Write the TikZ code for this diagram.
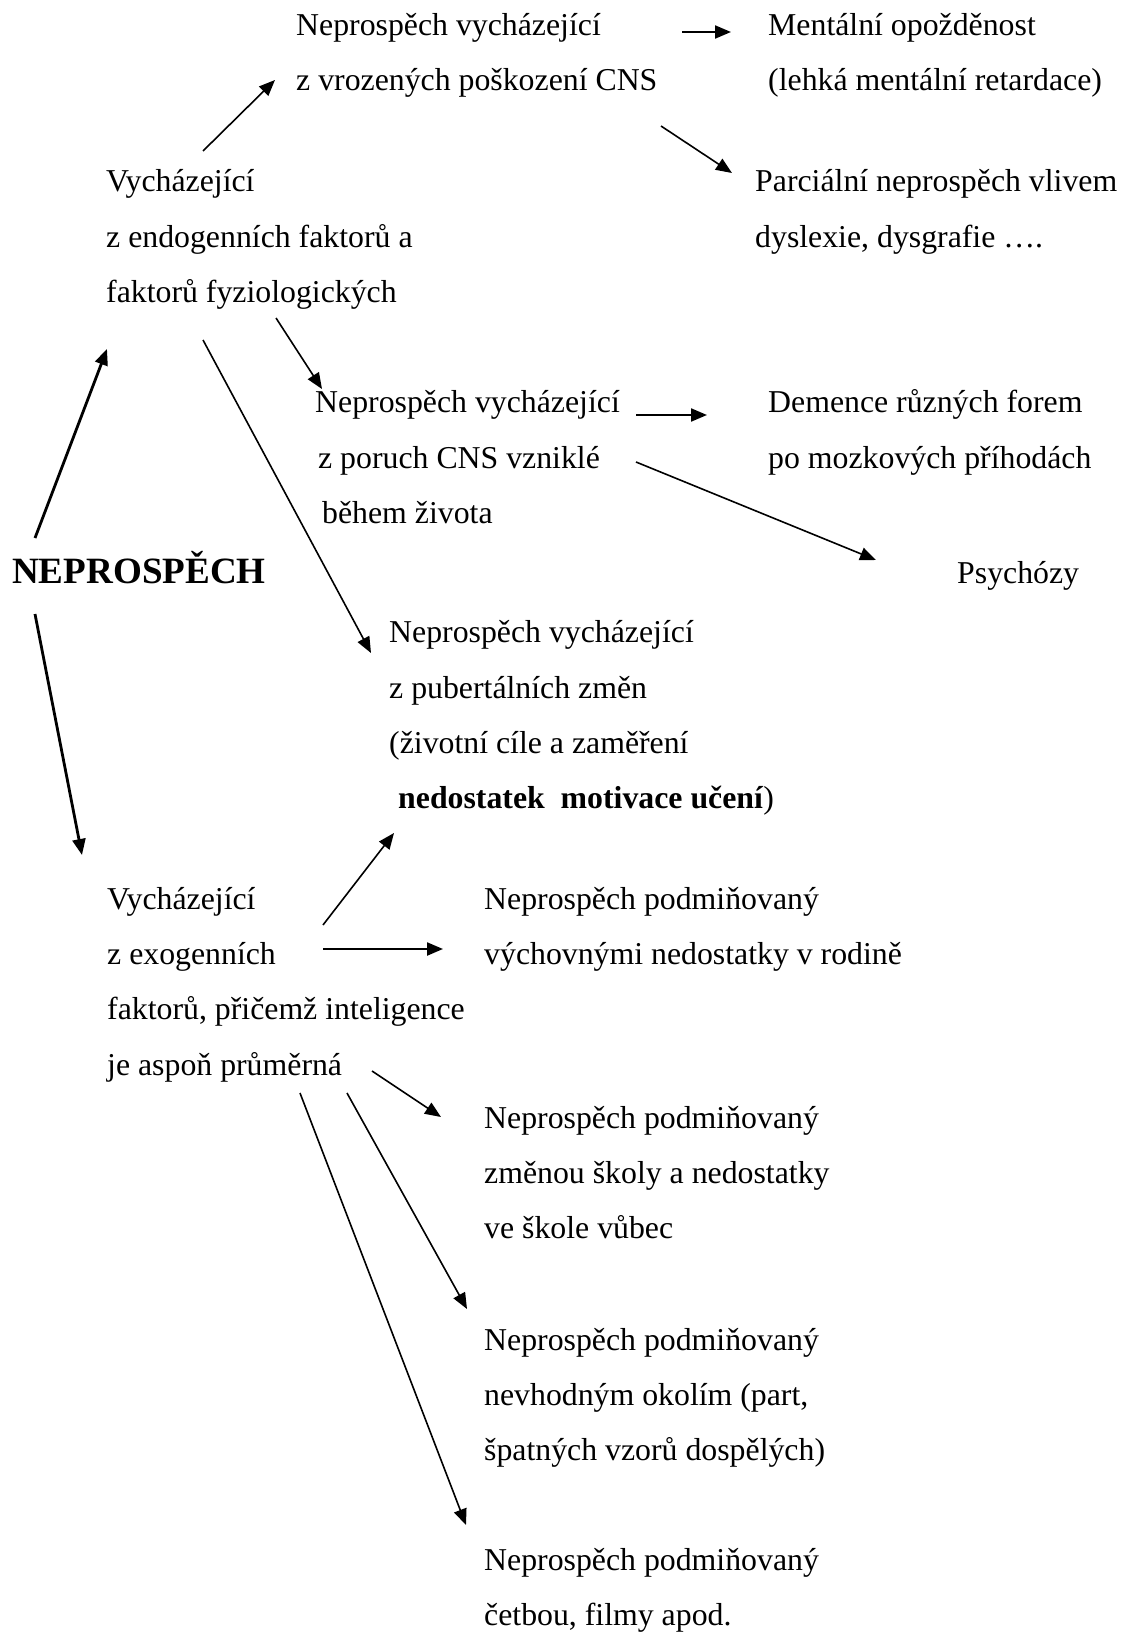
\documentclass[tikz,border=0pt]{standalone}
\usepackage{fontspec}
\setmainfont{Liberation Serif}
\usetikzlibrary{arrows.meta}

\begin{document}
\begin{tikzpicture}[x=1pt, y=-1pt,
  txt/.style={anchor=north west, inner sep=0pt, align=left, font=\fontsize{31.8}{55.2}\selectfont},
  arr/.style={-{Triangle[length=16pt, width=13pt]}, line width=1.6pt},
  harr/.style={arr, line width=2.2pt},
  barr/.style={arr, line width=2.8pt}]
  \useasboundingbox (0,0) rectangle (1128,1632);

  \node[anchor=base west, inner sep=0pt, font=\fontsize{37.1}{44}\selectfont\bfseries] (nep) at (12,583) {NEPROSPĚCH};

  \node[txt] (endo) at (106,153.1) {\strut Vycházející\\z endogenních faktorů a\\faktorů fyziologických};
  \node[txt] (vroz) at (296,-3.6) {\strut Neprospěch vycházející\\z vrozených poškození CNS};
  \node[txt] (ment) at (768,-3.6) {\strut Mentální opožděnost\\(lehká mentální retardace)};
  \node[txt] (parc) at (755,153.1) {\strut Parciální neprospěch vlivem\\dyslexie, dysgrafie \dots.};
  \node[txt] (poru) at (315,374.1) {\strut Neprospěch vycházející\\\hspace*{3pt}z poruch CNS vzniklé\\\hspace*{7pt}během života};
  \node[txt] (deme) at (768,374.1) {\strut Demence různých forem\\po mozkových příhodách};
  \node[anchor=base west, inner sep=0pt, font=\fontsize{31.8}{55.2}\selectfont] (psych) at (957,583) {Psychózy};
  \node[txt] (pube) at (389,604.1) {\strut Neprospěch vycházející\\z pubertálních změn\\(životní cíle a zaměření\\\hspace*{9pt}\textbf{nedostatek\ \ motivace učení})};

  \node[txt] (exo) at (107,870.7) {\strut Vycházející\\z exogenních\\faktorů, přičemž inteligence\\je aspoň průměrná};
  \node[txt] (rodi) at (484,870.7) {\strut Neprospěch podmiňovaný\\výchovnými nedostatky v rodině};
  \node[txt] (skol) at (484,1089.7) {\strut Neprospěch podmiňovaný\\změnou školy a nedostatky\\ve škole vůbec};
  \node[txt] (okol) at (484,1311.4) {\strut Neprospěch podmiňovaný\\nevhodným okolím (part,\\špatných vzorů dospělých)};
  \node[txt] (cetb) at (484,1531.4) {\strut Neprospěch podmiňovaný\\četbou, filmy apod.};

  \coordinate (nepU) at (35,538);
  \coordinate (nepD) at (35,614);
  \coordinate (endoIn) at (107,349);
  \coordinate (exoIn) at (82,855);
  \coordinate (endoA) at (203,151);
  \coordinate (endoB) at (276,318);
  \coordinate (endoC) at (203,340);
  \coordinate (vrozIn) at (275,80);
  \coordinate (vrozA) at (682,32);
  \coordinate (vrozB) at (661,126);
  \coordinate (mentIn) at (731,32);
  \coordinate (parcIn) at (732,173);
  \coordinate (poruIn) at (322,389);
  \coordinate (poruA) at (636,415);
  \coordinate (poruB) at (636,462);
  \coordinate (demeIn) at (707,415);
  \coordinate (psychIn) at (876,560);
  \coordinate (pubeIn) at (371,653);
  \coordinate (pubeIn2) at (394,833);
  \coordinate (exoA) at (323,925);
  \coordinate (exoB) at (323,949);
  \coordinate (exoC) at (372,1071);
  \coordinate (exoD) at (347,1093);
  \coordinate (exoE) at (300,1093);
  \coordinate (rodiIn) at (443,949);
  \coordinate (skolIn) at (441,1117);
  \coordinate (okolIn) at (467,1309);
  \coordinate (cetbIn) at (466,1525);

  \draw[barr] (nepU) -- (endoIn);
  \draw[barr] (nepD) -- (exoIn);
  \draw[arr] (endoA) -- (vrozIn);
  \draw[harr] (vrozA) -- (mentIn);
  \draw[arr] (vrozB) -- (parcIn);
  \draw[arr] (endoB) -- (poruIn);
  \draw[harr] (poruA) -- (demeIn);
  \draw[arr] (poruB) -- (psychIn);
  \draw[arr] (endoC) -- (pubeIn);
  \draw[arr] (exoA) -- (pubeIn2);
  \draw[harr] (exoB) -- (rodiIn);
  \draw[arr] (exoC) -- (skolIn);
  \draw[arr] (exoD) -- (okolIn);
  \draw[arr] (exoE) -- (cetbIn);
\end{tikzpicture}
\end{document}
